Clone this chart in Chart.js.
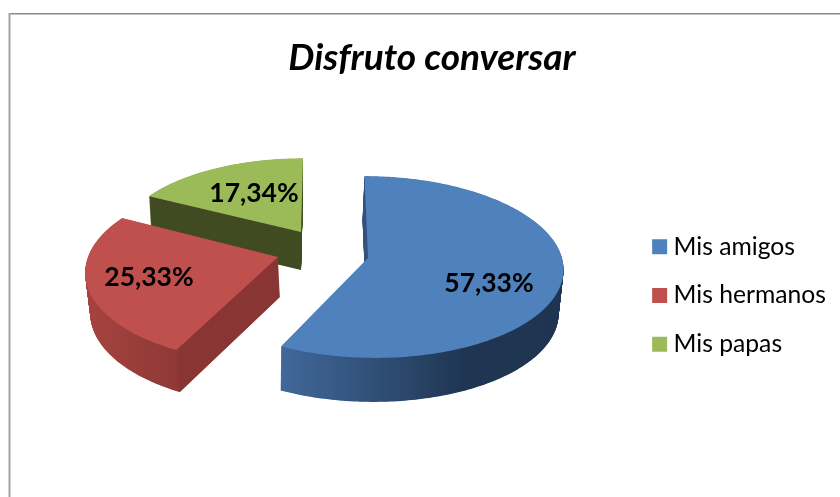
<!DOCTYPE html>
<html><head><meta charset="utf-8">
<style>html,body{margin:0;padding:0;background:#fff;overflow:hidden}canvas{display:block}</style>
<script src="https://cdn.jsdelivr.net/npm/chart.js@4"></script>
</head><body><canvas id="c" width="840" height="497"></canvas>
<script>
const categories = ['Mis amigos', 'Mis hermanos', 'Mis papas'];
const shares = [57.33, 25.33, 17.34];
const topColors = ['#4f81bd', '#c0504d', '#9bbb59'];
const chartTitle = 'Disfruto conversar';

// Perspective projection of each exploded slice (top face and bottom face)
const views = [
  { top:{c:[369.5,258],tip:[368,258],f:192.5,g:90,s:-5.5,k:.099}, bot:{c:[367.5,302],tip:[366,302],f:189.5,g:90,s:-5.5,k:.099},
    side:[[281,'#41689a'],[380,'#2f4e75'],[465,'#1f3552'],[560,'#1e3450']], label:[489,283] },
  { top:{c:[278,257],tip:[278,257],f:190,g:90,s:4,k:.149}, bot:{c:[280,297],tip:[280,297],f:187,g:92,s:4,k:.149},
    side:[[88,'#a5433f'],[177.4,'#8e3936'],[177.6,'#893533'],[285,'#893533']], label:[149,277] },
  { top:{c:[301,232],tip:[301,232],f:180.6,g:81,s:2.2,k:.1}, bot:{c:[301,270],tip:[301,270],f:178,g:81,s:2.2,k:.1},
    side:[[140,'#404b22'],[310,'#404b22']], label:[254,193] }
];
const paintOrder = [2, 1, 0];
const legendShift = { x:-4, y:35 };

function project(v, a){
  const t = a + Math.PI/2, X = Math.sin(t), Y = Math.cos(t), w = 1 + v.k*Y;
  return [v.c[0] + (v.f*X + v.s*Y)/w, v.c[1] - v.g*Y/w];
}
function mix(a, b, t){
  const n = {c:[], tip:[], f:a.f+(b.f-a.f)*t, g:a.g+(b.g-a.g)*t, s:a.s+(b.s-a.s)*t, k:a.k+(b.k-a.k)*t};
  for (let i=0;i<2;i++){ n.c[i]=a.c[i]+(b.c[i]-a.c[i])*t; n.tip[i]=a.tip[i]+(b.tip[i]-a.tip[i])*t; }
  return n;
}
function slicePath(ctx, v, start, end){
  ctx.beginPath();
  ctx.moveTo(v.tip[0], v.tip[1]);
  const steps = Math.ceil((end-start)/(Math.PI/180));
  for (let i=0;i<=steps;i++){
    const p = project(v, start+(end-start)*i/steps);
    ctx.lineTo(p[0], p[1]);
  }
  ctx.closePath();
}
const pie3d = {
  id:'pie3d',
  afterLayout(chart){
    const l = chart.legend;
    l.left += legendShift.x; l.right += legendShift.x;
    l.top += legendShift.y; l.bottom += legendShift.y;
  },
  beforeDraw(chart){
    const ctx = chart.ctx;
    ctx.save();
    ctx.fillStyle = '#fff'; ctx.fillRect(0,0,chart.width,chart.height);
    ctx.fillStyle = '#8a8a8a'; ctx.fillRect(9,13,chart.width-9,1.5);
    ctx.fillStyle = '#a4a4a4'; ctx.fillRect(8.5,13,2,chart.height-13);
    ctx.restore();
  },
  beforeDatasetDraw(chart, args){
    const ctx = chart.ctx, arcs = chart.getDatasetMeta(args.index).data;
    ctx.save();
    paintOrder.forEach(i=>{
      const v = views[i], arc = arcs[i];
      const x0 = v.side[0][0], x1 = v.side[v.side.length-1][0];
      const g = ctx.createLinearGradient(x0,0,x1,0);
      v.side.forEach(st=>g.addColorStop((st[0]-x0)/(x1-x0), st[1]));
      ctx.fillStyle = g;
      const layers = 90;
      for (let k=layers;k>0;k--){
        slicePath(ctx, mix(v.top, v.bot, k/layers), arc.startAngle, arc.endAngle);
        ctx.fill();
      }
      slicePath(ctx, v.top, arc.startAngle, arc.endAngle);
      ctx.fillStyle = arc.options.backgroundColor;
      ctx.fill();
    });
    ctx.restore();
    return false;
  },
  afterDatasetsDraw(chart){
    const ctx = chart.ctx;
    ctx.save();
    ctx.font = 'bold 26.5px Lato';
    ctx.fillStyle = '#000'; ctx.textAlign='center'; ctx.textBaseline='middle';
    shares.forEach((s,i)=>{
      ctx.fillText(s.toFixed(2).replace('.',',')+'%', views[i].label[0], views[i].label[1]);
    });
    ctx.restore();
  }
};
new Chart(document.getElementById('c'), {
  type:'pie',
  data:{ labels:categories, datasets:[{ data:shares, backgroundColor:topColors, borderWidth:0 }] },
  plugins:[pie3d],
  options:{
    responsive:false, animation:false, devicePixelRatio:1,
    layout:{ padding:{ left:24, top:24, right:0, bottom:0 } },
    plugins:{
      tooltip:{enabled:false},
      title:{ display:true, text:chartTitle, color:'#000', font:{family:'Lato',size:37,weight:'bold',style:'italic'}, padding:{top:12,bottom:10} },
      legend:{ position:'right', labels:{ boxWidth:3, boxHeight:3, padding:24, color:'#000', font:{family:'Lato',size:24.7},
        generateLabels(chart){
          return categories.map((name,i)=>({ text:name, fillStyle:topColors[i], strokeStyle:topColors[i], lineWidth:12, lineJoin:'miter', index:i, hidden:false }));
        } } }
    }
  }
});
</script></body></html>
